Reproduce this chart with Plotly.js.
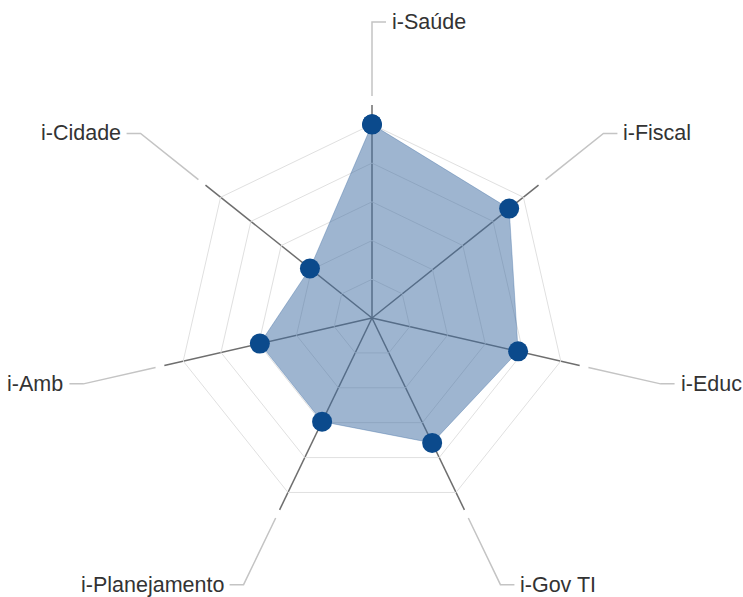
<!DOCTYPE html>
<html>
<head>
<meta charset="utf-8">
<script src="https://cdn.plot.ly/plotly-3.0.1.min.js"></script>
<style>html,body{margin:0;padding:0;background:#fff;}#chart{width:743px;height:597px;}</style>
</head>
<body>
<div id="chart"></div>
<script>
// Data
var categories = ["i-Saúde", "i-Fiscal", "i-Educ", "i-Gov TI", "i-Planejamento", "i-Amb", "i-Cidade"];
var values = [5.0, 4.53, 3.87, 3.58, 2.97, 2.97, 2.05];
var ringValues = [1, 2, 3, 4, 5];

var W = 743, H = 597;
var cx = 372, cy = 318, R = 213;           // polar centre and outer radius (px)
var rMax = 5.5;
var domX = [(cx - R) / W, (cx + R) / W];
var domY = [1 - (cy + R) / H, 1 - (cy - R) / H];

var closedCats = categories.concat([categories[0]]);
var closedVals = values.concat([values[0]]);

var trace = {
  type: "scatterpolar",
  r: closedVals,
  theta: closedCats,
  mode: "lines+markers",
  fill: "toself",
  fillcolor: "rgba(62,108,162,0.5)",
  line: {color: "rgba(62,108,162,0.35)", width: 1},
  marker: {size: 20, color: "#0b4a8c"},
  hoverinfo: "skip",
  showlegend: false
};

// Leader lines + labels (computed from category angles)
var shapes = [], annotations = [];
var n = categories.length;
var rIn = 222, rOut = 296, hook = 14;
function px(x) { return x / W; }
function py(y) { return 1 - y / H; }
for (var i = 0; i < n; i++) {
  var ang = Math.PI / 2 - i * 2 * Math.PI / n;
  var dx = Math.cos(ang), dy = -Math.sin(ang);
  if (Math.abs(dx) < 1e-6) dx = 0;
  var x1 = cx + rIn * dx, y1 = cy + rIn * dy;
  var x2 = cx + rOut * dx, y2 = cy + rOut * dy;
  var side = dx >= 0 ? 1 : -1;
  var x3 = x2 + side * hook;
  var path = "M " + px(x1) + " " + py(y1) + " L " + px(x2) + " " + py(y2) + " L " + px(x3) + " " + py(y2);
  shapes.push({type: "path", xref: "paper", yref: "paper", path: path,
    line: {color: "#c4c4c4", width: 1.5}});
  annotations.push({
    xref: "paper", yref: "paper",
    x: px(x3 + side * 4), y: py(y2),
    xanchor: side > 0 ? "left" : "right", yanchor: "middle",
    text: categories[i], showarrow: false,
    font: {family: "Liberation Sans, Arial, sans-serif", size: 21.5, color: "#333333"}
  });
}

var layout = {
  width: W, height: H,
  margin: {l: 0, r: 0, t: 0, b: 0},
  paper_bgcolor: "#ffffff",
  showlegend: false,
  polar: {
    domain: {x: domX, y: domY},
    bgcolor: "rgba(0,0,0,0)",
    gridshape: "linear",
    radialaxis: {
      range: [0, rMax],
      tickvals: ringValues,
      showticklabels: false,
      ticks: "",
      showline: false,
      gridcolor: "#e0e0e0",
      gridwidth: 1
    },
    angularaxis: {
      direction: "clockwise",
      rotation: 90,
      showticklabels: false,
      ticks: "",
      showline: false,
      gridcolor: "#6e6e6e",
      gridwidth: 1.5
    }
  },
  shapes: shapes,
  annotations: annotations
};

Plotly.newPlot("chart", [trace], layout, {displayModeBar: false, staticPlot: true});
</script>
</body>
</html>
